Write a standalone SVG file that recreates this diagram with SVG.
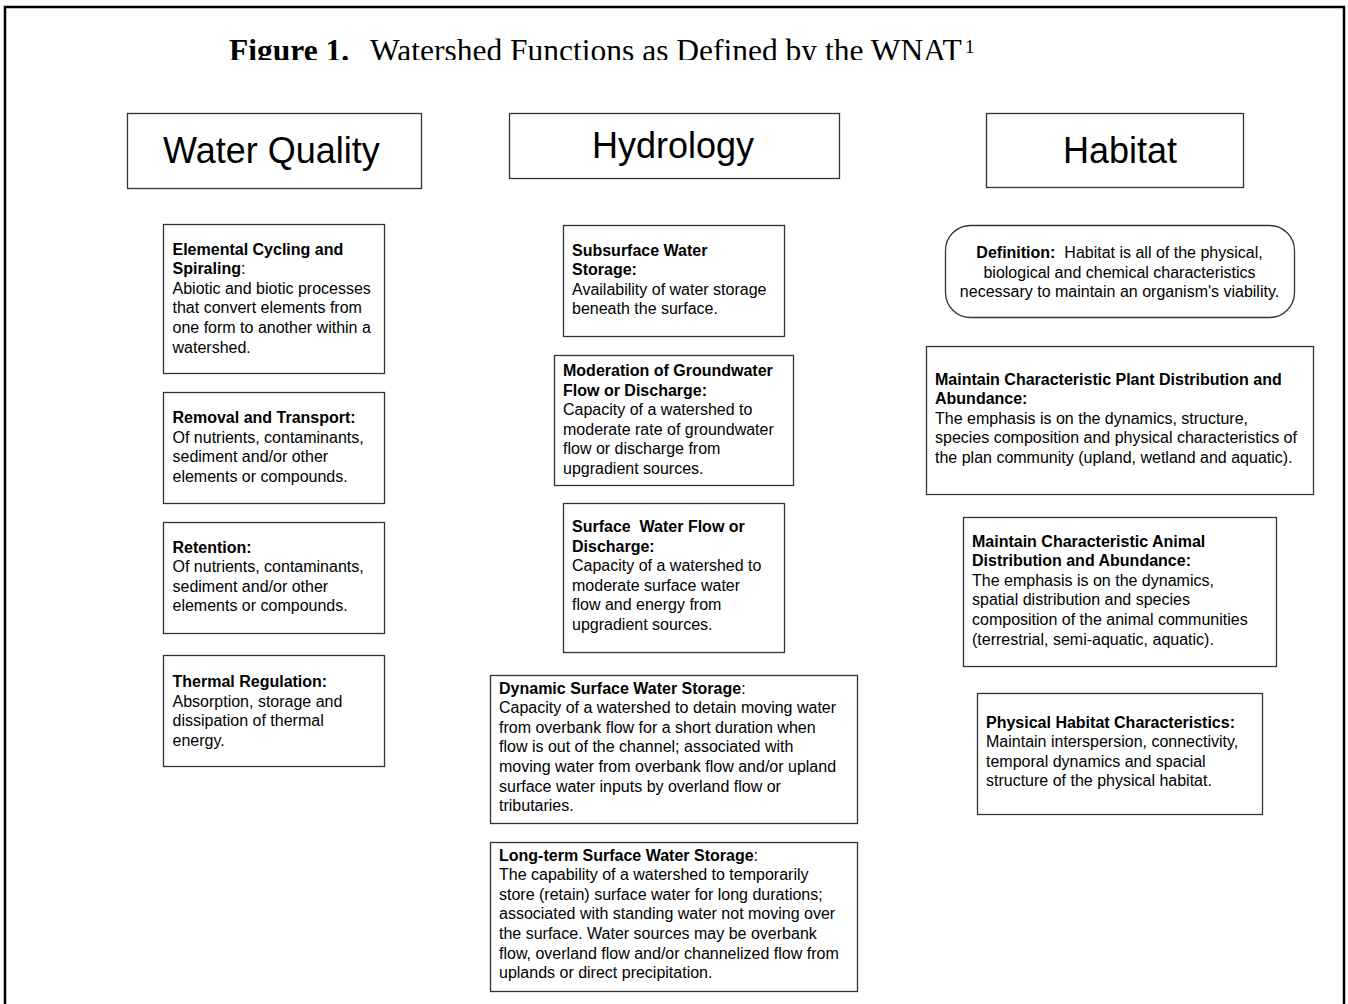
<svg xmlns="http://www.w3.org/2000/svg" width="1348" height="1004" viewBox="0 0 1348 1004">
<defs>
<style>
.box{fill:#fff;stroke:#333;stroke-width:1.3}
.hd{font-family:"Liberation Sans",Arial,sans-serif;font-size:36px;fill:#000}
.t{font-family:"Liberation Sans",Arial,sans-serif;font-size:16px;fill:#000}
.b{font-weight:bold}
.ttl{font-family:"Liberation Serif","Times New Roman",serif;font-size:31.5px;fill:#000;white-space:pre}
</style>
<clipPath id="titleclip"><rect x="0" y="0" width="1348" height="60"/></clipPath>
</defs>
<rect width="1348" height="1004" fill="#fff"/>
<path d="M5,1004 V7 H1344 V1004" fill="none" stroke="#000" stroke-width="2.5"/>
<g id="title" clip-path="url(#titleclip)">
<text class="ttl" x="229" y="61"><tspan font-weight="bold">Figure 1.</tspan><tspan x="370">Watershed Functions as Defined by the WNAT</tspan></text>
<text class="ttl" x="965" y="53" style="font-size:19px">1</text>
</g>
<g id="connectors"></g>
<g id="water-quality">
<rect class="box" x="127.5" y="113.5" width="294" height="75"/>
<text class="hd" x="163" y="163">Water Quality</text>
</g>
<g id="hydrology">
<rect class="box" x="509.5" y="113.5" width="330" height="65"/>
<text class="hd" x="592" y="158">Hydrology</text>
</g>
<g id="habitat">
<rect class="box" x="986.5" y="113.5" width="257" height="74"/>
<text class="hd" x="1063" y="163">Habitat</text>
</g>
<g id="elemental-cycling">
<rect class="box" x="163.5" y="224.5" width="221" height="149"/>
<text class="t" x="172.5" y="254.5"><tspan class="b">Elemental Cycling and</tspan><tspan x="172.5" dy="19.6"><tspan class="b">Spiraling</tspan>:</tspan><tspan x="172.5" dy="19.6">Abiotic and biotic processes</tspan><tspan x="172.5" dy="19.6">that convert elements from</tspan><tspan x="172.5" dy="19.6">one form to another within a</tspan><tspan x="172.5" dy="19.6">watershed.</tspan></text>
</g>
<g id="removal-transport">
<rect class="box" x="163.5" y="392.5" width="221" height="111"/>
<text class="t" x="172.5" y="423"><tspan class="b">Removal and Transport:</tspan><tspan x="172.5" dy="19.6">Of nutrients, contaminants,</tspan><tspan x="172.5" dy="19.6">sediment and/or other</tspan><tspan x="172.5" dy="19.6">elements or compounds.</tspan></text>
</g>
<g id="retention">
<rect class="box" x="163.5" y="522.5" width="221" height="111"/>
<text class="t" x="172.5" y="552.5"><tspan class="b">Retention:</tspan><tspan x="172.5" dy="19.6">Of nutrients, contaminants,</tspan><tspan x="172.5" dy="19.6">sediment and/or other</tspan><tspan x="172.5" dy="19.6">elements or compounds.</tspan></text>
</g>
<g id="thermal-regulation">
<rect class="box" x="163.5" y="655.5" width="221" height="111"/>
<text class="t" x="172.5" y="687"><tspan class="b">Thermal Regulation:</tspan><tspan x="172.5" dy="19.6">Absorption, storage and</tspan><tspan x="172.5" dy="19.6">dissipation of thermal</tspan><tspan x="172.5" dy="19.6">energy.</tspan></text>
</g>
<g id="subsurface-storage">
<rect class="box" x="563.5" y="225.5" width="221" height="111"/>
<text class="t" x="572" y="255.5"><tspan class="b">Subsurface Water</tspan><tspan class="b" x="572" dy="19.6">Storage:</tspan><tspan x="572" dy="19.6">Availability of water storage</tspan><tspan x="572" dy="19.6">beneath the surface.</tspan></text>
</g>
<g id="groundwater-moderation">
<rect class="box" x="554.5" y="355.5" width="239" height="130"/>
<text class="t" x="563" y="376"><tspan class="b">Moderation of Groundwater</tspan><tspan class="b" x="563" dy="19.6">Flow or Discharge:</tspan><tspan x="563" dy="19.6">Capacity of a watershed to</tspan><tspan x="563" dy="19.6">moderate rate of groundwater</tspan><tspan x="563" dy="19.6">flow or discharge from</tspan><tspan x="563" dy="19.6">upgradient sources.</tspan></text>
</g>
<g id="surface-flow">
<rect class="box" x="563.5" y="503.5" width="221" height="149"/>
<text class="t" x="572" y="532" style="white-space:pre"><tspan class="b">Surface  Water Flow or</tspan><tspan class="b" x="572" dy="19.6">Discharge:</tspan><tspan x="572" dy="19.6">Capacity of a watershed to</tspan><tspan x="572" dy="19.6">moderate surface water</tspan><tspan x="572" dy="19.6">flow and energy from</tspan><tspan x="572" dy="19.6">upgradient sources.</tspan></text>
</g>
<g id="dynamic-storage">
<rect class="box" x="490.5" y="675.5" width="367" height="148"/>
<text class="t" x="499" y="693.5"><tspan class="b">Dynamic Surface Water Storage</tspan>:<tspan x="499" dy="19.6">Capacity of a watershed to detain moving water</tspan><tspan x="499" dy="19.6">from overbank flow for a short duration when</tspan><tspan x="499" dy="19.6">flow is out of the channel; associated with</tspan><tspan x="499" dy="19.6">moving water from overbank flow and/or upland</tspan><tspan x="499" dy="19.6">surface water inputs by overland flow or</tspan><tspan x="499" dy="19.6">tributaries.</tspan></text>
</g>
<g id="longterm-storage">
<rect class="box" x="490.5" y="842.5" width="367" height="149"/>
<text class="t" x="499" y="860.5"><tspan class="b">Long-term Surface Water Storage</tspan>:<tspan x="499" dy="19.6">The capability of a watershed to temporarily</tspan><tspan x="499" dy="19.6">store (retain) surface water for long durations;</tspan><tspan x="499" dy="19.6">associated with standing water not moving over</tspan><tspan x="499" dy="19.6">the surface. Water sources may be overbank</tspan><tspan x="499" dy="19.6">flow, overland flow and/or channelized flow from</tspan><tspan x="499" dy="19.6">uplands or direct precipitation.</tspan></text>
</g>
<g id="definition">
<rect class="box" x="945.5" y="225.5" width="349" height="92" rx="25" ry="25"/>
<text class="t" x="1119.5" y="258" text-anchor="middle" style="white-space:pre"><tspan class="b">Definition:</tspan>  Habitat is all of the physical,<tspan x="1119.5" dy="19.6">biological and chemical characteristics</tspan><tspan x="1119.5" dy="19.6">necessary to maintain an organism's viability.</tspan></text>
</g>
<g id="plant-distribution">
<rect class="box" x="926.5" y="346.5" width="387" height="148"/>
<text class="t" x="935" y="384.5"><tspan class="b">Maintain Characteristic Plant Distribution and</tspan><tspan class="b" x="935" dy="19.6">Abundance:</tspan><tspan x="935" dy="19.6">The emphasis is on the dynamics, structure,</tspan><tspan x="935" dy="19.6">species composition and physical characteristics of</tspan><tspan x="935" dy="19.6">the plan community (upland, wetland and aquatic).</tspan></text>
</g>
<g id="animal-distribution">
<rect class="box" x="963.5" y="517.5" width="313" height="149"/>
<text class="t" x="972" y="546.5"><tspan class="b">Maintain Characteristic Animal</tspan><tspan class="b" x="972" dy="19.6">Distribution and Abundance:</tspan><tspan x="972" dy="19.6">The emphasis is on the dynamics,</tspan><tspan x="972" dy="19.6">spatial distribution and species</tspan><tspan x="972" dy="19.6">composition of the animal communities</tspan><tspan x="972" dy="19.6">(terrestrial, semi-aquatic, aquatic).</tspan></text>
</g>
<g id="physical-habitat">
<rect class="box" x="977.5" y="693.5" width="285" height="121"/>
<text class="t" x="986" y="727.5"><tspan class="b">Physical Habitat Characteristics:</tspan><tspan x="986" dy="19.6">Maintain interspersion, connectivity,</tspan><tspan x="986" dy="19.6">temporal dynamics and spacial</tspan><tspan x="986" dy="19.6">structure of the physical habitat.</tspan></text>
</g>
</svg>
